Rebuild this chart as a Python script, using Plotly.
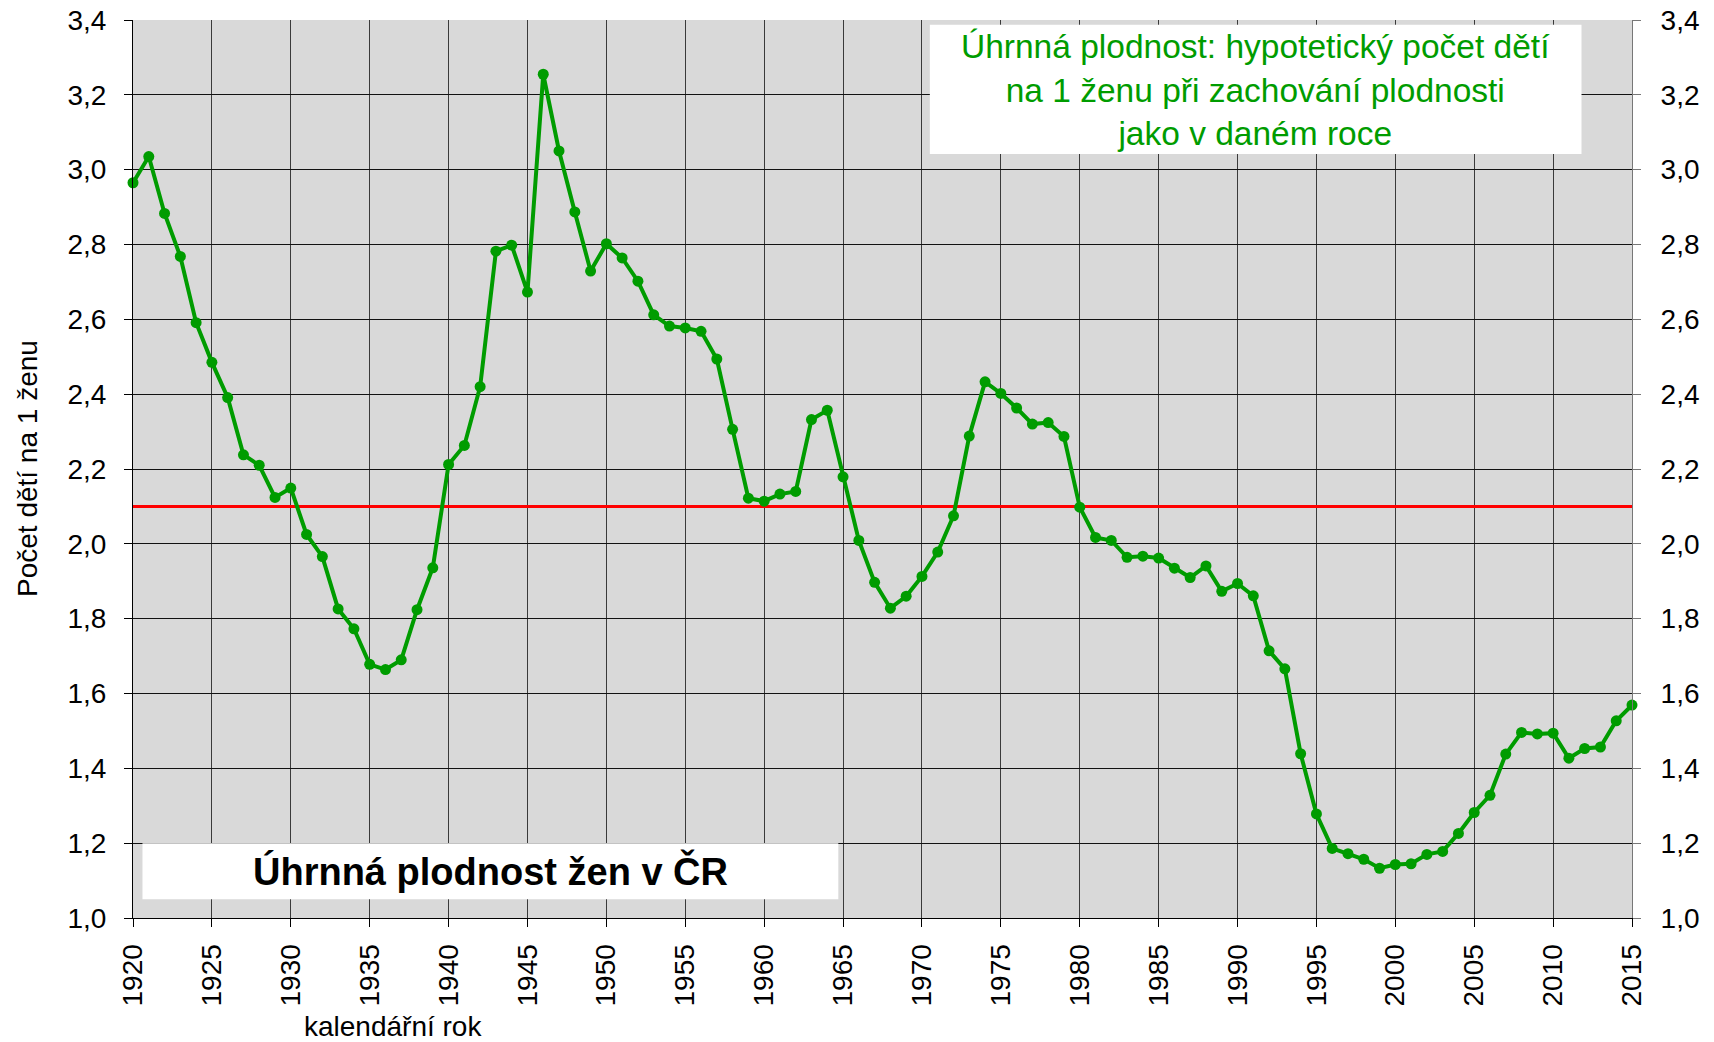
import plotly.graph_objects as go

years = [1920, 1921, 1922, 1923, 1924, 1925, 1926, 1927, 1928, 1929,
         1930, 1931, 1932, 1933, 1934, 1935, 1936, 1937, 1938, 1939,
         1940, 1941, 1942, 1943, 1944, 1945, 1946, 1947, 1948, 1949,
         1950, 1951, 1952, 1953, 1954, 1955, 1956, 1957, 1958, 1959,
         1960, 1961, 1962, 1963, 1964, 1965, 1966, 1967, 1968, 1969,
         1970, 1971, 1972, 1973, 1974, 1975, 1976, 1977, 1978, 1979,
         1980, 1981, 1982, 1983, 1984, 1985, 1986, 1987, 1988, 1989,
         1990, 1991, 1992, 1993, 1994, 1995, 1996, 1997, 1998, 1999,
         2000, 2001, 2002, 2003, 2004, 2005, 2006, 2007, 2008, 2009,
         2010, 2011, 2012, 2013, 2014, 2015]

fertility = [2.965, 3.035, 2.883, 2.768, 2.591, 2.485, 2.391, 2.238, 2.210, 2.124,
             2.149, 2.025, 1.966, 1.826, 1.773, 1.678, 1.664, 1.690, 1.824, 1.936,
             2.212, 2.263, 2.420, 2.782, 2.798, 2.673, 3.255, 3.050, 2.887, 2.729,
             2.802, 2.764, 2.702, 2.612, 2.582, 2.577, 2.568, 2.494, 2.306, 2.122,
             2.114, 2.133, 2.140, 2.332, 2.357, 2.179, 2.009, 1.897, 1.828, 1.860,
             1.913, 1.978, 2.075, 2.288, 2.433, 2.402, 2.363, 2.320, 2.324, 2.287,
             2.098, 2.017, 2.009, 1.964, 1.967, 1.962, 1.935, 1.910, 1.941, 1.873,
             1.894, 1.861, 1.714, 1.666, 1.439, 1.278, 1.186, 1.172, 1.157, 1.133,
             1.143, 1.145, 1.170, 1.178, 1.226, 1.282, 1.328, 1.438, 1.496, 1.492,
             1.494, 1.427, 1.453, 1.457, 1.527, 1.569]

replacement_years = [1920, 2015]
replacement_level = [2.1, 2.1]

x_ticks = [1920, 1925, 1930, 1935, 1940, 1945, 1950, 1955, 1960, 1965,
           1970, 1975, 1980, 1985, 1990, 1995, 2000, 2005, 2010, 2015]
y_ticks = [1.0, 1.2, 1.4, 1.6, 1.8, 2.0, 2.2, 2.4, 2.6, 2.8, 3.0, 3.2, 3.4]

FONT = "Liberation Sans, Arial, sans-serif"
GREEN = "#009C00"

fig = go.Figure()

fig.add_trace(go.Scatter(
    x=replacement_years, y=replacement_level, mode="lines",
    line=dict(color="#FF0000", width=3), hoverinfo="skip", showlegend=False))

fig.add_trace(go.Scatter(
    x=years, y=fertility, mode="lines+markers",
    line=dict(color=GREEN, width=4),
    marker=dict(color=GREEN, size=11),
    cliponaxis=False, showlegend=False))

# empty trace so that the right-hand axis is drawn
fig.add_trace(go.Scatter(x=[], y=[], yaxis="y2", showlegend=False, hoverinfo="skip"))

fig.update_layout(
    width=1714, height=1042,
    margin=dict(l=133, r=82, t=20, b=124, autoexpand=False),
    paper_bgcolor="white",
    plot_bgcolor="#D9D9D9",
    separators=", ",
    font=dict(family=FONT, size=28, color="black"),
    xaxis=dict(
        range=[1920, 2015], tickvals=x_ticks, tickangle=-90,
        showgrid=True, gridcolor="#3a3a3a", gridwidth=1,
        showline=True, linecolor="black", linewidth=1,
        ticks="outside", ticklen=8, tickcolor="black",
        ticklabelstandoff=6,
        tickfont=dict(family=FONT, size=28, color="black"),
        zeroline=False),
    yaxis=dict(
        range=[1.0, 3.4], tickvals=y_ticks, tickformat=".1f",
        showgrid=True, gridcolor="#111111", gridwidth=1,
        showline=True, linecolor="black", linewidth=1,
        ticks="outside", ticklen=8, tickcolor="black",
        ticklabelstandoff=12,
        tickfont=dict(family=FONT, size=28, color="black"),
        zeroline=False),
    yaxis2=dict(
        range=[1.0, 3.4], tickvals=y_ticks, tickformat=".1f",
        overlaying="y", side="right", showgrid=False,
        showline=True, linecolor="#777777", linewidth=1,
        ticks="outside", ticklen=8, tickcolor="#777777",
        ticklabelstandoff=14,
        tickfont=dict(family=FONT, size=28, color="black"),
        zeroline=False),
    shapes=[
        dict(type="rect", xref="x", yref="y", x0=1920.6, x1=1964.7, y0=1.05, y1=1.2,
             fillcolor="white", line=dict(width=0), layer="above"),
        dict(type="rect", xref="x", yref="y", x0=1970.5, x1=2011.8, y0=3.042, y1=3.387,
             fillcolor="white", line=dict(width=0), layer="above"),
    ],
    annotations=[
        dict(text="<b>Úhrnná plodnost žen v ČR</b>", xref="x", yref="y",
             x=1942.65, y=1.125, showarrow=False, xanchor="center", yanchor="middle",
             font=dict(family=FONT, size=38, color="black")),
        dict(text="Úhrnná plodnost: hypotetický počet dětí<br>na 1 ženu při zachování plodnosti<br>jako v daném roce",
             xref="x", yref="y", x=1991.15, y=3.212, showarrow=False,
             xanchor="center", yanchor="middle", align="center",
             font=dict(family=FONT, size=33.5, color=GREEN)),
        dict(text="kalendářní rok", xref="paper", yref="paper",
             x=(393 - 133) / 1499, y=(918 - 1026) / 898, showarrow=False,
             xanchor="center", yanchor="middle",
             font=dict(family=FONT, size=28, color="black")),
        dict(text="Počet dětí na 1 ženu", xref="paper", yref="paper",
             x=(27 - 133) / 1499, y=0.5, showarrow=False, textangle=-90,
             xanchor="center", yanchor="middle",
             font=dict(family=FONT, size=28, color="black")),
    ],
)

fig.write_html(
    "out.html",
    config={"displayModeBar": False},
    post_script="document.body.style.margin='0';document.body.style.overflow='hidden';",
)
